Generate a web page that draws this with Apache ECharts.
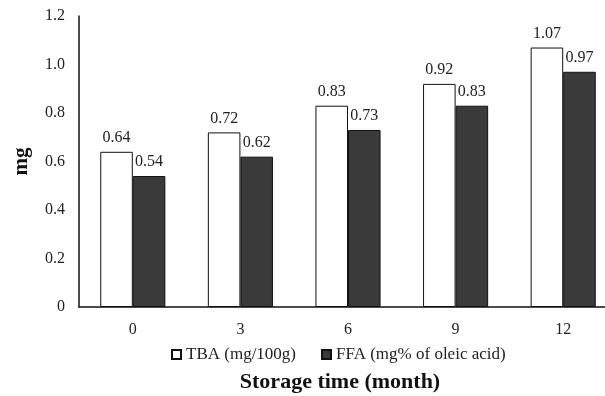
<!DOCTYPE html>
<html lang="en">
  <head>
    <meta charset="UTF-8" />
    <title>Storage time chart</title>
    <script src="https://cdn.jsdelivr.net/npm/echarts@6.0.0/dist/echarts.min.js"></script>
  </head>
  <body style="margin: 0; background: #fff">
    <div id="main" style="width: 605px; height: 396px"></div>
    <script type="text/javascript">
      const months = ["0", "3", "6", "9", "12"];
      const tba = [0.64, 0.72, 0.83, 0.92, 1.07];
      const ffa = [0.54, 0.62, 0.73, 0.83, 0.97];
      const yTicks = [0, 0.2, 0.4, 0.6, 0.8, 1.0, 1.2];

      const serif = "Liberation Serif";
      const label = {
        show: true,
        position: "top",
        distance: 6,
        color: "#222",
        fontFamily: serif,
        fontSize: 16,
        formatter: (p) => p.value.toFixed(2),
      };

      let myChart = echarts.init(document.getElementById("main"));
      myChart.setOption({
        animation: false,
        // plot runs a little past the right edge, as in the cropped original
        grid: {
          left: 79,
          right: -12,
          top: 16,
          bottom: 89,
          containLabel: false,
          outerBoundsMode: "none",
        },
        legend: {
          top: 341,
          left: 166,
          itemWidth: 9,
          itemHeight: 9,
          itemGap: 25,
          textStyle: { fontFamily: serif, fontSize: 17, color: "#222" },
          data: [
            { name: "TBA (mg/100g)", icon: "rect" },
            { name: "FFA (mg% of oleic acid)", icon: "rect" },
          ],
        },
        xAxis: {
          type: "category",
          data: months,
          name: "Storage time (month)",
          nameLocation: "middle",
          nameGap: 64,
          nameTextStyle: {
            fontFamily: serif,
            fontSize: 22,
            fontWeight: "bold",
            color: "#111",
            padding: [0, 16, 0, 0],
          },
          axisLine: { lineStyle: { color: "#111", width: 1.5 } },
          axisTick: { show: false },
          axisLabel: {
            margin: 15,
            fontFamily: serif,
            fontSize: 16,
            color: "#222",
          },
        },
        yAxis: {
          type: "value",
          min: yTicks[0],
          max: yTicks[yTicks.length - 1],
          interval: 0.2,
          name: "mg",
          nameLocation: "middle",
          nameGap: 47,
          nameTextStyle: {
            fontFamily: serif,
            fontSize: 21,
            fontWeight: "bold",
            color: "#111",
          },
          axisLine: { show: true, lineStyle: { color: "#111", width: 1.5 } },
          axisTick: { show: false },
          splitLine: { show: false },
          axisLabel: {
            margin: 14,
            fontFamily: serif,
            fontSize: 16,
            color: "#222",
            formatter: (v) => (v === 0 ? "0" : v.toFixed(1)),
          },
        },
        series: [
          {
            name: "TBA (mg/100g)",
            type: "bar",
            data: tba,
            barGap: "0%",
            barCategoryGap: "39.5%",
            itemStyle: { color: "#ffffff", borderColor: "#111", borderWidth: 1 },
            label: label,
          },
          {
            name: "FFA (mg% of oleic acid)",
            type: "bar",
            data: ffa,
            itemStyle: { color: "#3a3a3a", borderColor: "#111", borderWidth: 1 },
            label: label,
          },
        ],
      });
    </script>
  </body>
</html>
